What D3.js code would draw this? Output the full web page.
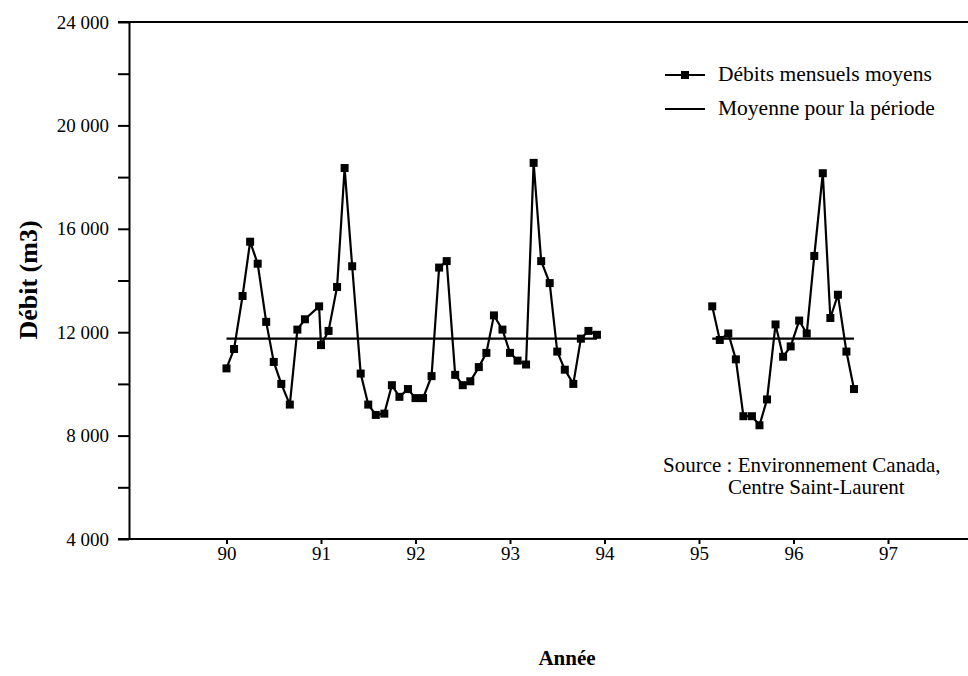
<!DOCTYPE html>
<html>
<head>
<meta charset="utf-8">
<script src="https://cdn.jsdelivr.net/npm/d3@7"></script>
<style>
  body { margin: 0; background: #fff; }
  svg { display: block; font-family: "Liberation Serif", "Times New Roman", serif; }
  svg text { font-family: "Liberation Serif", "Times New Roman", serif; }
</style>
</head>
<body>
<svg width="968" height="676"></svg>
<script>
"use strict";

// positions en années décimales
var anneesA = [90.00, 90.08, 90.17, 90.25, 90.33, 90.42, 90.50, 90.58, 90.67, 90.75, 90.83, 90.98,
	91.00, 91.08, 91.17, 91.25, 91.33, 91.42, 91.50, 91.58, 91.67, 91.75, 91.83, 91.92,
	92.00, 92.08, 92.17, 92.25, 92.33, 92.42, 92.50, 92.58, 92.67, 92.75, 92.83, 92.92,
	93.00, 93.08, 93.17, 93.25, 93.33, 93.42, 93.50, 93.58, 93.67, 93.75, 93.83, 93.92];
var debitsA = [10600, 11350, 13400, 15500, 14650, 12400, 10850, 10000, 9200, 12100, 12500, 13000,
	11500, 12050, 13750, 18350, 14550, 10400, 9200, 8800, 8850, 9950, 9500, 9800,
	9450, 9450, 10300, 14500, 14750, 10350, 9950, 10100, 10650, 11200, 12650, 12100,
	11200, 10900, 10750, 18550, 14750, 13900, 11250, 10550, 10000, 11750, 12050, 11900];

var anneesB = [95.14, 95.22, 95.31, 95.39, 95.47, 95.56, 95.64, 95.72, 95.81, 95.89,
	95.97, 96.06, 96.14, 96.22, 96.31, 96.39, 96.47, 96.56, 96.64];
var debitsB = [13000, 11700, 11950, 10950, 8750, 8750, 8400, 9400, 12300, 11050,
	11450, 12450, 11950, 14950, 18150, 12550, 13450, 11250, 9800];

var moyenne = 11750;

var xTicks = [90, 91, 92, 93, 94, 95, 96, 97];
var yTicks = [4000, 6000, 8000, 10000, 12000, 14000, 16000, 18000, 20000, 22000, 24000];

var legende = ["Débits mensuels moyens", "Moyenne pour la période"];
var source = ["Source : Environnement Canada,", "Centre Saint-Laurent"];

function dataViz(){

	var svg = d3.select("svg");
	var W = 968;

	var xScale = d3.scaleLinear().domain([90, 97]).range([226.5, 888]);
	var yScale = d3.scaleLinear().domain([4000, 24000]).range([539, 22]);
	var x0 = 129;

	var fr = d3.formatLocale({decimal: ",", thousands: "\u00a0", grouping: [3], currency: ["", ""]}).format(",d");

	// cadre haut et axe bas
	svg.append("line")
		.attr("x1", x0 - 11).attr("x2", W)
		.attr("y1", yScale(24000)).attr("y2", yScale(24000))
		.attr("stroke", "black").attr("stroke-width", 2);

	var yAxisG = svg.append("g")
		.attr("transform", "translate(" + x0 + ",0)")
		.call(d3.axisLeft(yScale).tickValues(yTicks).tickSize(11).tickSizeOuter(0).tickPadding(9)
			.tickFormat(function(d){ return d % 4000 === 0 ? fr(d) : ""; }));
	yAxisG.attr("font-family", "Liberation Serif").attr("font-size", 19);
	yAxisG.selectAll("line, path").attr("stroke-width", 2);

	var xAxisG = svg.append("g")
		.attr("transform", "translate(0," + yScale(4000) + ")")
		.call(d3.axisBottom(xScale).tickValues(xTicks).tickSize(5).tickPadding(3).tickFormat(d3.format("d")));
	xAxisG.attr("font-family", "Liberation Serif").attr("font-size", 19);
	xAxisG.selectAll("line").attr("stroke-width", 2);
	xAxisG.select(".domain").remove();

	svg.append("line")
		.attr("x1", x0 - 11).attr("x2", W)
		.attr("y1", yScale(4000)).attr("y2", yScale(4000))
		.attr("stroke", "black").attr("stroke-width", 2);

	// moyenne
	[anneesA, anneesB].forEach(function(a){
		svg.append("line")
			.attr("x1", xScale(a[0])).attr("x2", xScale(a[a.length - 1]))
			.attr("y1", yScale(moyenne)).attr("y2", yScale(moyenne))
			.attr("stroke", "black").attr("stroke-width", 2.2);
	});

	var line = d3.line()
		.x(function(d){ return xScale(d[0]); })
		.y(function(d){ return yScale(d[1]); });

	[[anneesA, debitsA], [anneesB, debitsB]].forEach(function(s){
		var pts = d3.zip(s[0], s[1]);
		svg.append("path")
			.attr("d", line(pts))
			.attr("fill", "none")
			.attr("stroke", "black")
			.attr("stroke-width", 2.2);
		svg.append("g")
			.selectAll("rect")
			.data(pts)
			.enter()
			.append("rect")
			.attr("x", function(d){ return xScale(d[0]) - 4; })
			.attr("y", function(d){ return yScale(d[1]) - 4; })
			.attr("width", 8)
			.attr("height", 8)
			.style("fill", "black");
	});

	// légende
	var leg = svg.append("g").attr("transform", "translate(665,75)");
	leg.append("line").attr("x1", 0).attr("x2", 40).attr("y1", 0).attr("y2", 0)
		.attr("stroke", "black").attr("stroke-width", 2.2);
	leg.append("rect").attr("x", 16).attr("y", -4).attr("width", 8).attr("height", 8).style("fill", "black");
	leg.append("line").attr("x1", 0).attr("x2", 40).attr("y1", 34).attr("y2", 34)
		.attr("stroke", "black").attr("stroke-width", 2.2);
	leg.selectAll("text")
		.data(legende)
		.enter()
		.append("text")
		.attr("x", 53)
		.attr("y", function(d, i){ return i * 34 + 6; })
		.style("font-size", "21.5px")
		.text(function(d){ return d; });

	// source
	svg.append("text").attr("x", 663).attr("y", 472).style("font-size", "21px").text(source[0]);
	svg.append("text").attr("x", 728).attr("y", 494).style("font-size", "21px").text(source[1]);

	// titres des axes
	svg.append("text")
		.attr("transform", "translate(37,280) rotate(-90)")
		.attr("text-anchor", "middle")
		.style("font-size", "26px")
		.style("font-weight", "bold")
		.text("Débit (m3)");

	svg.append("text")
		.attr("x", 567).attr("y", 665)
		.attr("text-anchor", "middle")
		.style("font-size", "21px")
		.style("font-weight", "bold")
		.text("Année");
}

dataViz();
</script>
</body>
</html>
